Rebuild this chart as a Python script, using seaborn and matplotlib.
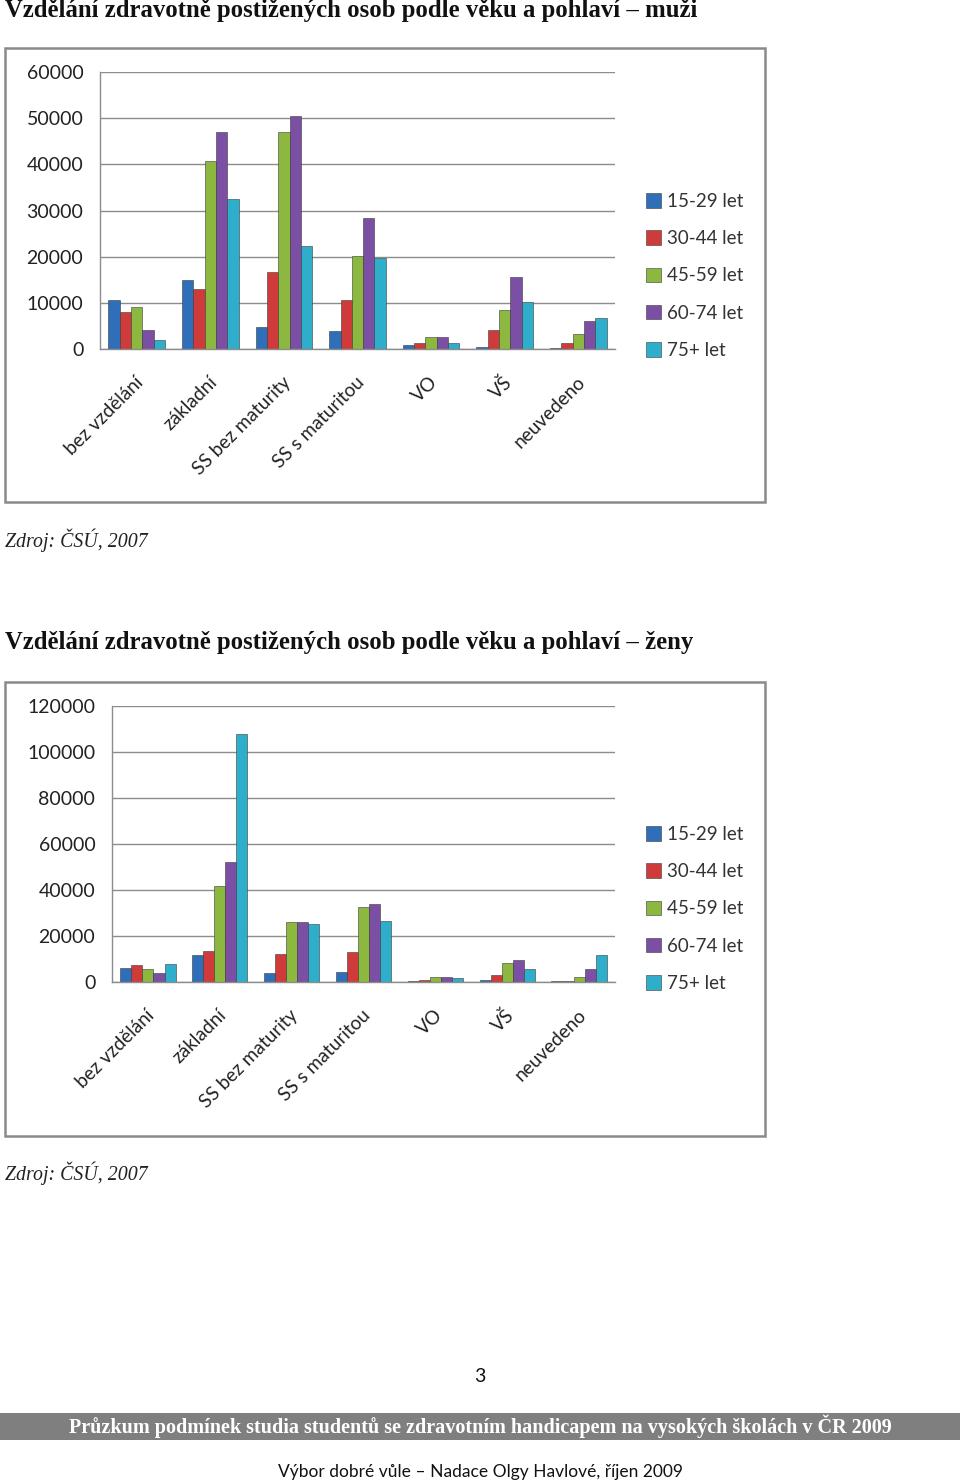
import numpy as np
import pandas as pd
import matplotlib
matplotlib.use("Agg")
import matplotlib.pyplot as plt
from matplotlib.patches import Rectangle, Patch
from matplotlib.transforms import ScaledTranslation
import seaborn as sns

# ---------------- data ----------------
categories = ["bez vzdělání", "základní", "SS bez maturity", "SS s maturitou", "VO", "VŠ", "neuvedeno"]
age_groups = ["15-29 let", "30-44 let", "45-59 let", "60-74 let", "75+ let"]

men_15_29 = [10700, 15000, 4700, 4000, 900, 400, 150]
men_30_44 = [8000, 13000, 16700, 10700, 1200, 4100, 1400]
men_45_59 = [9100, 40700, 46900, 20100, 2700, 8400, 3200]
men_60_74 = [4200, 46900, 50400, 28400, 2700, 15600, 6000]
men_75 = [2000, 32400, 22300, 19800, 1400, 10100, 6700]

women_15_29 = [5900, 11700, 3800, 4200, 600, 1000, 400]
women_30_44 = [7400, 13600, 12200, 13200, 700, 3000, 400]
women_45_59 = [5500, 41900, 26200, 32500, 2000, 8300, 2000]
women_60_74 = [3800, 52000, 25900, 33800, 2000, 9600, 5500]
women_75 = [7800, 107800, 25400, 26400, 1600, 5500, 11600]

men_ticks = [0, 10000, 20000, 30000, 40000, 50000, 60000]
women_ticks = [0, 20000, 40000, 60000, 80000, 100000, 120000]

title_men = "Vzdělání zdravotně postižených osob podle věku a pohlaví – muži"
title_women = "Vzdělání zdravotně postižených osob podle věku a pohlaví – ženy"
source_text = "Zdroj: ČSÚ, 2007"
page_number = "3"
band_text = "Průzkum podmínek studia studentů se zdravotním handicapem na vysokých školách v ČR 2009"
footer_text = "Výbor dobré vůle – Nadace Olgy Havlové, říjen 2009"

colors = ["#2f6fba", "#cf3b3b", "#8db83f", "#7b4fa3", "#2eaecb"]

# ---------------- figure ----------------
sns.set_theme(style="white")
plt.rcParams["font.family"] = ["Lato", "DejaVu Sans"]

W, H = 960, 1484
fig = plt.figure(figsize=(W / 100, H / 100), dpi=100)
fig.patch.set_facecolor("white")


def fx(px):
    return px / W


def fy(py):
    return 1 - py / H


def long_df(series):
    rows = []
    for ag, vals in zip(age_groups, series):
        for c, v in zip(categories, vals):
            rows.append({"kategorie": c, "vek": ag, "pocet": v})
    return pd.DataFrame(rows)


def draw_chart(series, ticks, box_top, ax_left, ax_top, ax_bottom, legend_top):
    # outer chart frame
    fig.patches.append(Rectangle((fx(5), fy(box_top + 454)), fx(760), 454 / H,
                                 transform=fig.transFigure, fill=False,
                                 edgecolor="#8a8a8a", linewidth=1.8))
    ax_right = 615
    ax = fig.add_axes([fx(ax_left), fy(ax_bottom), fx(ax_right - ax_left),
                       (ax_bottom - ax_top) / H])
    df = long_df(series)
    sns.barplot(data=df, x="kategorie", y="pocet", hue="vek", order=categories,
                hue_order=age_groups, palette=colors, saturation=1, width=0.77,
                edgecolor="#3a3a3a", linewidth=0.4, ax=ax, legend=False,
                errorbar=None)
    ax.set_xlim(-0.5, len(categories) - 0.5)
    ax.set_ylim(ticks[0], ticks[-1])
    ax.set_yticks(ticks)
    ax.set_yticklabels([str(t) for t in ticks], fontsize=14, color="#222222")
    ax.yaxis.grid(True, color="#8c8c8c", linewidth=1.0)
    ax.set_axisbelow(True)
    for s in ["top", "right"]:
        ax.spines[s].set_visible(False)
    ax.spines["left"].set_color("#8c8c8c")
    ax.spines["bottom"].set_color("#8c8c8c")
    ax.spines["left"].set_linewidth(1.0)
    ax.spines["bottom"].set_linewidth(1.0)
    ax.tick_params(axis="y", length=4, color="#8c8c8c", width=1.0, pad=8)
    # x ticks: boundaries as minor ticks
    ax.set_xticks(np.arange(-0.5, len(categories), 1.0), minor=True)
    ax.tick_params(axis="x", which="minor", length=4, color="#8c8c8c", width=1.0)
    ax.set_xticks(range(len(categories)))
    ax.set_xticklabels(categories, rotation=45, ha="right", va="center",
                       rotation_mode="anchor", fontsize=13.7, color="#222222")
    ax.tick_params(axis="x", which="major", length=0, pad=22)
    shift = ScaledTranslation(4 / 100, 0, fig.dpi_scale_trans)
    for lbl in ax.get_xticklabels():
        lbl.set_transform(lbl.get_transform() + shift)
    ax.set_xlabel("")
    ax.set_ylabel("")
    handles = [Patch(facecolor=c, edgecolor="#3a3a3a", linewidth=0.4) for c in colors]
    fig.legend(handles, age_groups, loc="upper left",
               bbox_to_anchor=(fx(629), fy(legend_top)), frameon=False,
               fontsize=13.5, handlelength=0.8, handleheight=0.8,
               handletextpad=0.35, labelspacing=1.08, labelcolor="#333333")
    return ax


draw_chart([men_15_29, men_30_44, men_45_59, men_60_74, men_75], men_ticks,
           box_top=48, ax_left=100, ax_top=72, ax_bottom=349, legend_top=176)
draw_chart([women_15_29, women_30_44, women_45_59, women_60_74, women_75], women_ticks,
           box_top=682, ax_left=112, ax_top=706, ax_bottom=982, legend_top=809)

serif = ["Liberation Serif", "DejaVu Serif"]
fig.text(fx(5), fy(11), title_men, fontsize=17.8, fontweight="bold",
         family=serif, ha="left", va="center", color="#111111")
fig.text(fx(5), fy(643), title_women, fontsize=17.8, fontweight="bold",
         family=serif, ha="left", va="center", color="#111111")
fig.text(fx(5), fy(540), source_text, fontsize=14.3, style="italic",
         family=serif, ha="left", va="center", color="#222222")
fig.text(fx(5), fy(1173), source_text, fontsize=14.3, style="italic",
         family=serif, ha="left", va="center", color="#222222")
fig.text(fx(480), fy(1376), page_number, fontsize=14, ha="center", va="center",
         color="#111111")

fig.patches.append(Rectangle((0, fy(1440)), 1, 27 / H, transform=fig.transFigure,
                             facecolor="#7f7f7f", edgecolor="none"))
fig.text(fx(480), fy(1426), band_text, fontsize=14.5, fontweight="bold",
         family=serif, ha="center", va="center", color="white")
fig.text(fx(480), fy(1472), footer_text, fontsize=12.5, ha="center", va="center",
         color="#111111")

fig.savefig("out.png", dpi=100)
